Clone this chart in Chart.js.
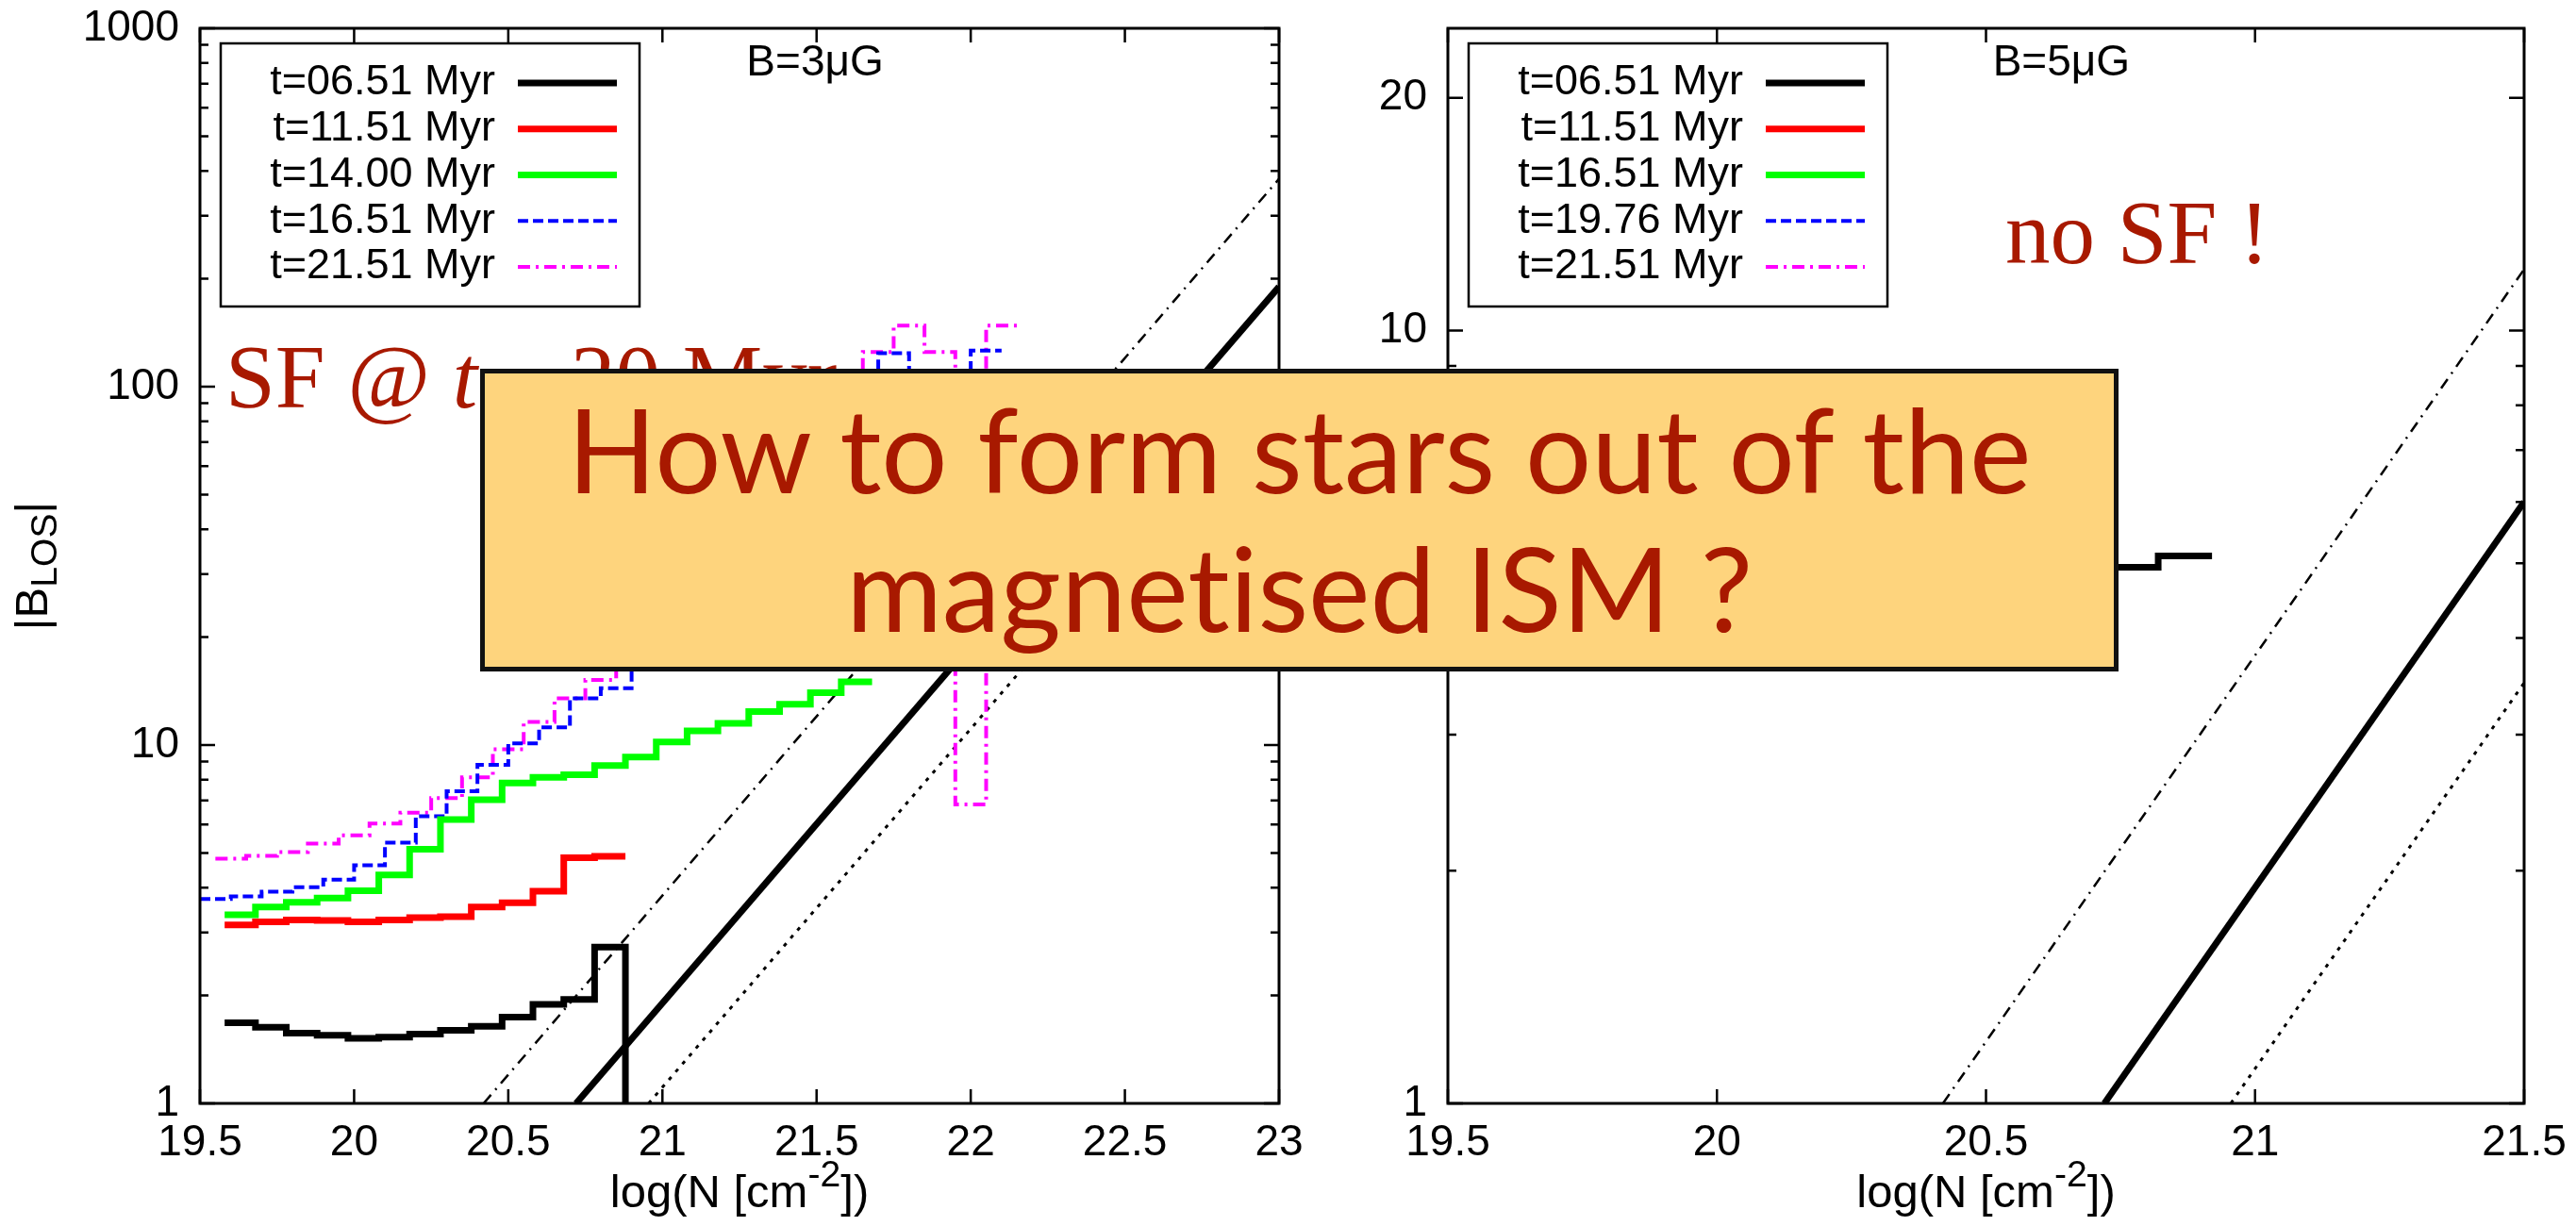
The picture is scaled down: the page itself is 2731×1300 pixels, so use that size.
<!DOCTYPE html>
<html>
<head>
<meta charset="utf-8">
<title>B_LOS vs column density</title>
<script src="https://cdn.jsdelivr.net/npm/chart.js@4.4.1/dist/chart.umd.min.js"></script>
<style>
    body { margin: 0; width: 2731px; height: 1300px; background: #fff; position: relative; overflow: hidden; }
    canvas { position: absolute; top: 0; }
    #leftChart { left: 0; }
    #rightChart { left: 1400px; }
    .note { position: absolute; font-family: "Liberation Serif", serif; font-size: 95px; line-height: 95px; color: #a81900; white-space: nowrap; }
    #question {
        position: absolute; left: 509px; top: 391px; width: 1737px; height: 321px;
        box-sizing: border-box; background: #fed47d; border: 5px solid #111;
        font-family: Lato, sans-serif; font-size: 124px; line-height: 147px;
        font-variant-ligatures: none; font-feature-settings: "liga" 0, "clig" 0;
        color: #a81900; text-align: center; padding-top: 6px;
    }
</style>
</head>
<body>
<canvas id="leftChart" width="1400" height="1300"></canvas>
<canvas id="rightChart" width="1331" height="1300"></canvas>
<div class="note" style="left:239px; top:353px;">SF @ <i>t</i> ~ 20 Myr</div>
<div class="note" style="left:2126px; top:200px;">no SF !</div>
<div id="question">How to form stars out of the<br>magnetised ISM ?</div>

<script>
// ---- left panel, B = 3 muG: bin edges (log N) and |B_LOS| per bin ----
const edgesA = [19.58, 19.68, 19.78, 19.88, 19.98, 20.08, 20.18, 20.28, 20.38, 20.48, 20.58,
    20.68, 20.78, 20.88, 20.98, 21.08, 21.18, 21.28, 21.38, 21.48, 21.58, 21.68];
const edgesB = [19.50, 19.60, 19.70, 19.80, 19.90, 20.00, 20.10, 20.20, 20.30, 20.40, 20.50,
    20.60, 20.70, 20.80, 20.90, 21.00, 21.10, 21.20, 21.30, 21.40, 21.50, 21.60, 21.70,
    21.80, 21.90, 22.00, 22.10];
const edgesC = [19.55, 19.65, 19.75, 19.85, 19.95, 20.05, 20.15, 20.25, 20.35, 20.45, 20.55,
    20.65, 20.75, 20.85, 20.95, 21.05, 21.15, 21.25, 21.35, 21.45, 21.55, 21.65, 21.75,
    21.85, 21.95, 22.05, 22.15];

const b3_t0651 = [1.68, 1.63, 1.57, 1.55, 1.52, 1.53, 1.56, 1.60, 1.64, 1.74, 1.89, 1.95, 2.73];
const b3_t1151 = [3.15, 3.21, 3.25, 3.24, 3.21, 3.25, 3.30, 3.32, 3.53, 3.63, 3.91, 4.85, 4.89];
const b3_t1400 = [3.36, 3.53, 3.64, 3.74, 3.92, 4.34, 5.12, 6.20, 7.04, 7.83, 8.12, 8.26, 8.77,
    9.26, 10.2, 10.95, 11.5, 12.4, 13.0, 14.0, 15.0];
const b3_t1651 = [3.72, 3.78, 3.90, 4.01, 4.21, 4.62, 5.34, 6.33, 7.43, 8.80, 10.1, 11.2, 13.5,
    14.4, 17.5, 19.5, 22, 26, 31, 38, 48, 65, 124, 85, 60, 126];
const b3_t2151 = [4.82, 4.91, 5.03, 5.31, 5.60, 6.04, 6.47, 7.11, 8.12, 9.73, 11.6, 13.5, 15.2,
    18.5, 22, 26, 31, 38, 47, 60, 80, 125, 148, 125, 6.83, 148];

// ---- right panel, B = 5 muG (mostly hidden behind the box) ----
const edgesR = [19.52, 19.62, 19.72, 19.82, 19.92, 20.02, 20.12, 20.22, 20.32, 20.42, 20.52,
    20.62, 20.72, 20.82, 20.92];
const b5_t0651 = [4.95, 4.93, 4.92, 4.90, 4.90, 4.90, 4.92, 4.93, 4.95, 4.95, 4.96, 4.97, 4.94, 5.11];
const b5_t1151 = [5.05, 5.10, 5.12, 5.15, 5.20, 5.25, 5.30, 5.35, 5.40, 5.50, 5.60];
const b5_t1651 = [5.30, 5.35, 5.40, 5.50, 5.60, 5.70, 5.90, 6.10, 6.30, 6.50, 6.80];
const b5_t1976 = [5.60, 5.70, 5.80, 6.00, 6.20, 6.40, 6.70, 7.00, 7.30, 7.60];
const b5_t2151 = [6.00, 6.10, 6.30, 6.50, 6.70, 7.00, 7.30, 7.70, 8.10];

// ---- reference relations (straight lines in log-lin), end points ----
const refSolidL = { x: [20.72, 23], y: [1, 190] };
const refDashDotL = { x: [20.42, 23], y: [1, 380] };
const refDotL = { x: [20.955, 23], y: [1, 111] };
const refSolidR = { x: [20.72, 21.5], y: [1, 6.0] };
const refDashDotR = { x: [20.42, 21.5], y: [1, 12.0] };
const refDotR = { x: [20.955, 21.5], y: [1, 3.5] };

// ---- axes ----
const yMajorL = [1, 10, 100, 1000];
const yMinorL = [2, 3, 4, 5, 6, 7, 8, 9, 20, 30, 40, 50, 60, 70, 80, 90, 200, 300, 400, 500, 600, 700, 800, 900];
const yMajorR = [1, 10, 20];
const yMinorR = [2, 3, 4, 5, 6, 7, 8, 9];

const FONT = '"Liberation Sans", Arial, sans-serif';
const EMPTY_BIN = 0.01;

function histPoints(edges, values, endValue) {
    const pts = values.map((v, i) => ({ x: edges[i], y: v }));
    pts.push({ x: edges[values.length], y: endValue === undefined ? values[values.length - 1] : endValue });
    return pts;
}

function linePoints(ref) {
    return ref.x.map((x, i) => ({ x, y: ref.y[i] }));
}

const styles = {
    black: { borderColor: '#000000', borderWidth: 7, borderDash: [] },
    red: { borderColor: '#ff0000', borderWidth: 7, borderDash: [] },
    green: { borderColor: '#00ff00', borderWidth: 7, borderDash: [] },
    blue: { borderColor: '#0000ff', borderWidth: 4, borderDash: [11, 5] },
    magenta: { borderColor: '#ff00ff', borderWidth: 4, borderDash: [13, 6, 3, 6] },
    refSolid: { borderColor: '#000000', borderWidth: 7, borderDash: [] },
    refDashDot: { borderColor: '#000000', borderWidth: 2.5, borderDash: [12, 7, 2, 7] },
    refDot: { borderColor: '#000000', borderWidth: 3, borderDash: [4, 7] }
};

function histSet(label, edges, values, style, endValue) {
    return Object.assign({
        label, data: histPoints(edges, values, endValue), stepped: 'before',
        inLegend: true, clip: 0, pointRadius: 0, fill: false
    }, styles[style]);
}

function refSet(ref, style) {
    return Object.assign({
        label: '', data: linePoints(ref), inLegend: false, clip: 0, pointRadius: 0, fill: false
    }, styles[style]);
}

function richText(ctx, parts, size, cx, by) {
    let total = 0;
    parts.forEach(p => {
        ctx.font = `${p.small ? size * 0.8 : size}px ${FONT}`;
        p.w = ctx.measureText(p.t).width;
        total += p.w;
    });
    let x = cx - total / 2;
    ctx.textAlign = 'left';
    ctx.textBaseline = 'alphabetic';
    parts.forEach(p => {
        ctx.font = `${p.small ? size * 0.8 : size}px ${FONT}`;
        ctx.fillText(p.t, x, by + (p.dy || 0) * size);
        x += p.w;
    });
}

// gnuplot style: framed box, inward ticks on all sides, key box, labels
const gnuplotLook = {
    id: 'gnuplotLook',
    afterDatasetsDraw(chart, args, o) {
        const ctx = chart.ctx;
        const a = chart.chartArea;
        const xs = chart.scales.x;
        const ys = chart.scales.y;
        ctx.save();
        ctx.strokeStyle = '#000';
        ctx.setLineDash([]);
        ctx.lineWidth = 2.5;
        ctx.beginPath();
        xs.ticks.forEach(t => {
            const px = xs.getPixelForValue(t.value);
            ctx.moveTo(px, a.bottom); ctx.lineTo(px, a.bottom - 15);
            ctx.moveTo(px, a.top); ctx.lineTo(px, a.top + 15);
        });
        const yTick = (v, len) => {
            const py = ys.getPixelForValue(v);
            ctx.moveTo(a.left, py); ctx.lineTo(a.left + len, py);
            ctx.moveTo(a.right, py); ctx.lineTo(a.right - len, py);
        };
        o.yMajor.forEach(v => yTick(v, 16));
        o.yMinor.forEach(v => yTick(v, 9));
        ctx.stroke();
        ctx.lineWidth = 3;
        ctx.strokeRect(a.left, a.top, a.width, a.height);

        // key
        const kx = a.left + 22, ky = a.top + 16;
        ctx.fillStyle = '#fff';
        ctx.fillRect(kx, ky, 444, 279);
        ctx.lineWidth = 2.5;
        ctx.strokeRect(kx, ky, 444, 279);
        ctx.font = `45px ${FONT}`;
        ctx.textAlign = 'right';
        ctx.textBaseline = 'middle';
        chart.data.datasets.filter(d => d.inLegend).forEach((d, i) => {
            const cy = ky + 42 + i * 48.75;
            ctx.fillStyle = '#000';
            ctx.fillText(d.label, kx + 291, cy);
            ctx.strokeStyle = d.borderColor;
            ctx.lineWidth = d.borderWidth;
            ctx.setLineDash(d.borderDash);
            ctx.beginPath();
            ctx.moveTo(kx + 315, cy);
            ctx.lineTo(kx + 420, cy);
            ctx.stroke();
        });
        ctx.setLineDash([]);

        // field label
        ctx.fillStyle = '#000';
        ctx.font = `46px ${FONT}`;
        ctx.textAlign = 'center';
        ctx.textBaseline = 'alphabetic';
        ctx.fillText(o.fieldLabel, a.left + 0.57 * a.width, a.top + 50);

        // axis titles
        richText(ctx, [{ t: 'log(N [cm' }, { t: '-2', small: true, dy: -0.45 }, { t: '])' }],
            49, (a.left + a.right) / 2, 1280);
        if (o.yTitle) {
            ctx.translate(50, (a.top + a.bottom) / 2);
            ctx.rotate(-Math.PI / 2);
            richText(ctx, [{ t: '|B' }, { t: 'LOS', small: true, dy: 0.2 }, { t: '|' }], 49, 0, 0);
        }
        ctx.restore();
    }
};

function makeChart(id, datasets, xMax, yMax, yMajor, yMinor, yWidth, rightPad, fieldLabel, yTitle) {
    return new Chart(document.getElementById(id), {
        type: 'line',
        data: { datasets },
        plugins: [gnuplotLook],
        options: {
            responsive: false,
            animation: false,
            devicePixelRatio: 1,
            layout: { padding: { top: 30, right: rightPad, left: 0, bottom: 0 } },
            elements: { line: { tension: 0, borderCapStyle: 'butt', borderJoinStyle: 'miter' }, point: { radius: 0 } },
            plugins: {
                legend: { display: false },
                tooltip: { enabled: false },
                gnuplotLook: { yMajor, yMinor, fieldLabel, yTitle }
            },
            scales: {
                x: {
                    type: 'linear', min: 19.5, max: xMax,
                    afterFit: s => {
                        s.height = 130;
                        s.paddingLeft = 0;
                        s.paddingRight = 0;
                    },
                    grid: { display: false, drawTicks: false },
                    border: { display: false },
                    ticks: {
                        stepSize: 0.5, padding: 15, autoSkip: false, maxRotation: 0,
                        color: '#000', font: { family: FONT, size: 46 },
                        callback: v => String(v)
                    }
                },
                y: {
                    type: 'logarithmic', min: 1, max: yMax,
                    afterFit: s => {
                        s.width = yWidth;
                        s.paddingTop = 0;
                        s.paddingBottom = 0;
                    },
                    afterBuildTicks: s => { s.ticks = yMajor.map(v => ({ value: v })); },
                    grid: { display: false, drawTicks: false },
                    border: { display: false },
                    ticks: {
                        padding: 22, autoSkip: false,
                        color: '#000', font: { family: FONT, size: 46 },
                        callback: v => String(v)
                    }
                }
            }
        }
    });
}

document.addEventListener('DOMContentLoaded', () => {
    const leftSets = [
        histSet('t=06.51 Myr', edgesA, b3_t0651, 'black', EMPTY_BIN),
        histSet('t=11.51 Myr', edgesA, b3_t1151, 'red'),
        histSet('t=14.00 Myr', edgesA, b3_t1400, 'green'),
        histSet('t=16.51 Myr', edgesB, b3_t1651, 'blue'),
        histSet('t=21.51 Myr', edgesC, b3_t2151, 'magenta'),
        refSet(refSolidL, 'refSolid'),
        refSet(refDashDotL, 'refDashDot'),
        refSet(refDotL, 'refDot')
    ];
    const rightSets = [
        histSet('t=06.51 Myr', edgesR, b5_t0651, 'black'),
        histSet('t=11.51 Myr', edgesR, b5_t1151, 'red'),
        histSet('t=16.51 Myr', edgesR, b5_t1651, 'green'),
        histSet('t=19.76 Myr', edgesR, b5_t1976, 'blue'),
        histSet('t=21.51 Myr', edgesR, b5_t2151, 'magenta'),
        refSet(refSolidR, 'refSolid'),
        refSet(refDashDotR, 'refDashDot'),
        refSet(refDotR, 'refDot')
    ];
    makeChart('leftChart', leftSets, 23, 1000, yMajorL, yMinorL, 212, 44, 'B=3\u03bcG', true);
    makeChart('rightChart', rightSets, 21.5, 24.6, yMajorR, yMinorR, 135, 55, 'B=5\u03bcG', false);
});
</script>
</body>
</html>
